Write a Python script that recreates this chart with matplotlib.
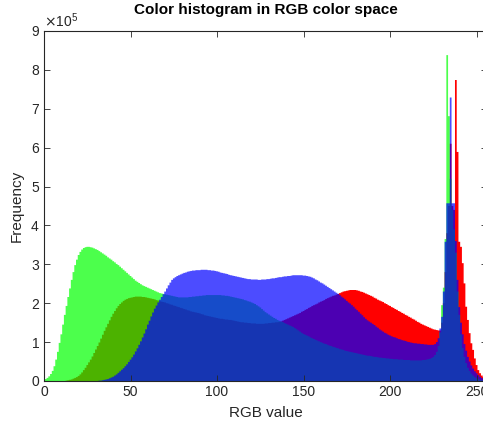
import numpy as np
import matplotlib
matplotlib.use("Agg")
import matplotlib.pyplot as plt
from matplotlib.ticker import ScalarFormatter

# Histogram counts per intensity value 0..255, in units of 1e5
green = [
    0.03, 0.05, 0.08, 0.12, 0.18, 0.26, 0.38, 0.55, 0.75, 0.98,
    1.20, 1.45, 1.70, 1.93, 2.16, 2.38, 2.60, 2.80, 2.98, 3.12,
    3.24, 3.32, 3.38, 3.42, 3.44, 3.45, 3.45, 3.44, 3.43, 3.41,
    3.39, 3.37, 3.34, 3.31, 3.28, 3.25, 3.22, 3.18, 3.15, 3.12,
    3.08, 3.05, 3.01, 2.98, 2.94, 2.90, 2.86, 2.82, 2.78, 2.74,
    2.70, 2.66, 2.62, 2.58, 2.55, 2.52, 2.49, 2.46, 2.44, 2.42,
    2.40, 2.38, 2.36, 2.34, 2.32, 2.30, 2.28, 2.26, 2.25, 2.24,
    2.23, 2.22, 2.21, 2.20, 2.19, 2.18, 2.17, 2.16, 2.15, 2.15,
    2.15, 2.15, 2.15, 2.15, 2.16, 2.16, 2.17, 2.17, 2.18, 2.18,
    2.19, 2.19, 2.20, 2.20, 2.21, 2.21, 2.21, 2.21, 2.21, 2.21,
    2.21, 2.21, 2.21, 2.20, 2.20, 2.19, 2.19, 2.18, 2.17, 2.16,
    2.15, 2.14, 2.13, 2.12, 2.11, 2.10, 2.08, 2.07, 2.05, 2.04,
    2.02, 2.00, 1.98, 1.95, 1.92, 1.89, 1.85, 1.81, 1.77, 1.74,
    1.71, 1.68, 1.65, 1.62, 1.60, 1.57, 1.55, 1.53, 1.52, 1.49,
    1.47, 1.45, 1.43, 1.41, 1.39, 1.36, 1.33, 1.30, 1.27, 1.24,
    1.21, 1.19, 1.17, 1.15, 1.12, 1.10, 1.08, 1.06, 1.04, 1.02,
    1.00, 0.98, 0.96, 0.95, 0.93, 0.91, 0.90, 0.88, 0.87, 0.85,
    0.84, 0.82, 0.81, 0.80, 0.78, 0.77, 0.76, 0.75, 0.74, 0.73,
    0.72, 0.71, 0.70, 0.69, 0.68, 0.67, 0.66, 0.65, 0.65, 0.64,
    0.63, 0.62, 0.62, 0.61, 0.60, 0.60, 0.59, 0.59, 0.58, 0.58,
    0.57, 0.57, 0.56, 0.56, 0.56, 0.55, 0.55, 0.55, 0.54, 0.54,
    0.54, 0.54, 0.53, 0.53, 0.53, 0.53, 0.53, 0.53, 0.53, 0.54,
    0.54, 0.55, 0.56, 0.57, 0.59, 0.62, 0.67, 0.75, 0.90, 1.25,
    1.95, 2.40, 3.65, 8.38, 6.81, 5.20, 4.40, 3.90, 3.30, 2.30,
    1.70, 1.20, 0.85, 0.62, 0.46, 0.34, 0.26, 0.19, 0.14, 0.10,
    0.07, 0.05, 0.03, 0.02, 0.02, 0.01,
]

red = [
    0.00, 0.00, 0.00, 0.00, 0.00, 0.00, 0.00, 0.00, 0.00, 0.00,
    0.00, 0.00, 0.00, 0.01, 0.02, 0.03, 0.04, 0.06, 0.08, 0.10,
    0.13, 0.17, 0.22, 0.28, 0.34, 0.41, 0.48, 0.55, 0.63, 0.72,
    0.81, 0.90, 0.99, 1.09, 1.19, 1.29, 1.38, 1.47, 1.56, 1.65,
    1.73, 1.80, 1.87, 1.93, 1.98, 2.02, 2.06, 2.09, 2.11, 2.13,
    2.14, 2.15, 2.16, 2.17, 2.17, 2.17, 2.17, 2.16, 2.16, 2.15,
    2.14, 2.13, 2.12, 2.11, 2.10, 2.08, 2.07, 2.05, 2.04, 2.03,
    2.02, 2.00, 1.99, 1.97, 1.96, 1.94, 1.93, 1.91, 1.90, 1.88,
    1.87, 1.85, 1.84, 1.82, 1.81, 1.79, 1.78, 1.77, 1.76, 1.75,
    1.74, 1.72, 1.71, 1.69, 1.68, 1.67, 1.66, 1.65, 1.64, 1.63,
    1.62, 1.61, 1.60, 1.60, 1.59, 1.58, 1.58, 1.57, 1.57, 1.56,
    1.55, 1.54, 1.53, 1.52, 1.51, 1.51, 1.50, 1.50, 1.49, 1.49,
    1.48, 1.48, 1.48, 1.47, 1.47, 1.47, 1.47, 1.47, 1.48, 1.48,
    1.49, 1.49, 1.50, 1.50, 1.51, 1.51, 1.52, 1.53, 1.55, 1.57,
    1.59, 1.61, 1.63, 1.65, 1.67, 1.69, 1.71, 1.73, 1.75, 1.78,
    1.80, 1.83, 1.85, 1.88, 1.90, 1.93, 1.95, 1.97, 1.99, 2.02,
    2.04, 2.06, 2.08, 2.11, 2.13, 2.15, 2.17, 2.19, 2.20, 2.22,
    2.24, 2.26, 2.28, 2.30, 2.31, 2.32, 2.33, 2.34, 2.34, 2.34,
    2.34, 2.33, 2.32, 2.30, 2.29, 2.27, 2.25, 2.23, 2.21, 2.19,
    2.17, 2.14, 2.12, 2.09, 2.07, 2.05, 2.03, 2.00, 1.98, 1.95,
    1.93, 1.90, 1.88, 1.85, 1.83, 1.80, 1.78, 1.75, 1.73, 1.70,
    1.68, 1.65, 1.63, 1.60, 1.58, 1.55, 1.52, 1.50, 1.47, 1.45,
    1.43, 1.41, 1.39, 1.37, 1.35, 1.33, 1.32, 1.31, 1.30, 1.30,
    1.50, 2.00, 2.80, 3.80, 4.50, 6.10, 4.50, 4.40, 7.74, 5.89,
    3.58, 3.45, 3.03, 2.51, 1.91, 1.57, 1.23, 0.97, 0.80, 0.58,
    0.41, 0.28, 0.20, 0.14, 0.10, 0.08,
]

blue = [
    0.00, 0.00, 0.00, 0.00, 0.00, 0.00, 0.00, 0.00, 0.00, 0.00,
    0.00, 0.00, 0.00, 0.00, 0.00, 0.00, 0.00, 0.00, 0.00, 0.00,
    0.00, 0.00, 0.00, 0.00, 0.00, 0.00, 0.00, 0.00, 0.00, 0.00,
    0.00, 0.00, 0.01, 0.01, 0.02, 0.03, 0.04, 0.05, 0.07, 0.09,
    0.11, 0.14, 0.17, 0.21, 0.25, 0.29, 0.33, 0.38, 0.43, 0.49,
    0.55, 0.61, 0.68, 0.76, 0.84, 0.93, 1.02, 1.12, 1.22, 1.33,
    1.45, 1.55, 1.66, 1.76, 1.86, 1.94, 2.02, 2.09, 2.16, 2.23,
    2.30, 2.38, 2.46, 2.53, 2.60, 2.64, 2.67, 2.70, 2.72, 2.74,
    2.76, 2.78, 2.79, 2.81, 2.82, 2.83, 2.84, 2.84, 2.85, 2.85,
    2.85, 2.86, 2.86, 2.86, 2.86, 2.85, 2.85, 2.84, 2.84, 2.83,
    2.82, 2.81, 2.79, 2.78, 2.77, 2.76, 2.75, 2.73, 2.72, 2.71,
    2.70, 2.69, 2.68, 2.67, 2.66, 2.65, 2.64, 2.63, 2.62, 2.62,
    2.61, 2.61, 2.61, 2.61, 2.60, 2.60, 2.61, 2.61, 2.61, 2.62,
    2.62, 2.63, 2.64, 2.64, 2.65, 2.66, 2.67, 2.67, 2.68, 2.69,
    2.69, 2.70, 2.70, 2.71, 2.72, 2.72, 2.72, 2.72, 2.72, 2.72,
    2.71, 2.71, 2.70, 2.69, 2.68, 2.66, 2.64, 2.61, 2.59, 2.56,
    2.53, 2.51, 2.48, 2.45, 2.42, 2.39, 2.36, 2.33, 2.30, 2.27,
    2.24, 2.21, 2.17, 2.14, 2.10, 2.06, 2.02, 1.99, 1.95, 1.91,
    1.86, 1.82, 1.78, 1.73, 1.69, 1.64, 1.60, 1.56, 1.53, 1.50,
    1.47, 1.44, 1.40, 1.37, 1.33, 1.30, 1.27, 1.24, 1.22, 1.19,
    1.17, 1.15, 1.13, 1.12, 1.10, 1.08, 1.07, 1.05, 1.04, 1.03,
    1.01, 1.00, 0.99, 0.98, 0.97, 0.97, 0.96, 0.96, 0.95, 0.95,
    0.94, 0.94, 0.93, 0.93, 0.93, 0.93, 0.95, 1.00, 1.10, 1.35,
    1.65, 2.30, 3.58, 4.57, 4.57, 7.29, 4.57, 4.57, 3.60, 2.60,
    1.90, 1.50, 1.20, 0.95, 0.78, 0.62, 0.50, 0.40, 0.32, 0.25,
    0.20, 0.15, 0.11, 0.08, 0.06, 0.05,
]

values = np.arange(256)
scale = 1e5
x_ticks = [0, 50, 100, 150, 200, 250]
y_ticks = [0, 1, 2, 3, 4, 5, 6, 7, 8, 9]

plt.rcParams['font.family'] = ['Liberation Sans', 'DejaVu Sans']

fig = plt.figure(figsize=(4.83, 4.28), dpi=100)
W, H = 483, 428
ax = fig.add_axes([44 / W, (H - 381) / H, 443 / W, 350 / H])

edges = np.arange(257) - 0.5
for data, color, alpha in [(red, (1, 0, 0), 1.0), (green, (0, 1, 0), 0.7), (blue, (0, 0, 1), 0.7)]:
    ax.hist(values, bins=edges, weights=np.array(data) * scale,
            histtype='stepfilled', color=color, alpha=alpha, linewidth=0)

ax.set_xlim(0, 256)
ax.set_ylim(0, 9e5)
ax.set_xticks(x_ticks)
ax.set_yticks([t * scale for t in y_ticks])
fmt = ScalarFormatter(useMathText=True)
fmt.set_powerlimits((0, 0))
ax.yaxis.set_major_formatter(fmt)

tc = '#262626'
ax.tick_params(direction='in', top=True, right=True, length=4, width=0.6,
               colors=tc, labelsize=10, pad=3)
ax.yaxis.get_offset_text().set_fontsize(10)
ax.yaxis.get_offset_text().set_color(tc)
for s in ax.spines.values():
    s.set_color(tc)
    s.set_linewidth(0.8)

ax.set_title('Color histogram in RGB color space', fontsize=11, fontweight='bold', pad=12)
ax.set_xlabel('RGB value', fontsize=11, color=tc, labelpad=5)
ax.set_ylabel('Frequency', fontsize=11, color=tc, labelpad=5)

fig.savefig('out.png', dpi=100)
